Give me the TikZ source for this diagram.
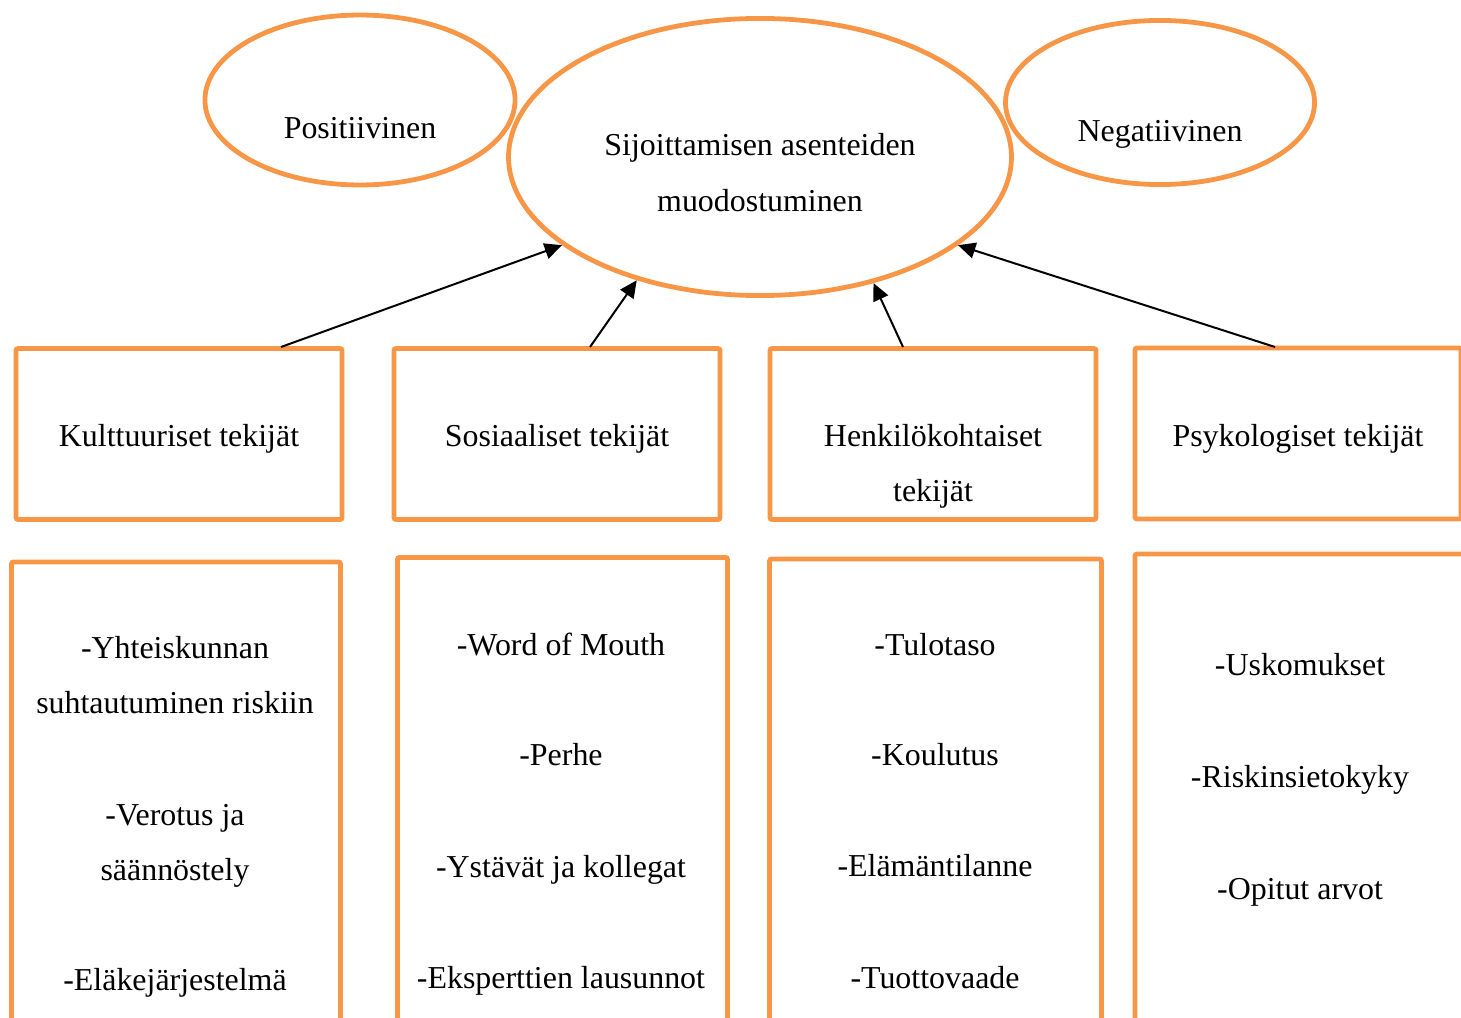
\documentclass[tikz,border=0pt]{standalone}
\usepackage{fontspec}
\setmainfont{Liberation Serif}
\usetikzlibrary{shapes.geometric,arrows.meta}
\definecolor{accentorange}{RGB}{247,150,70}
\tikzset{
  oval/.style={draw=accentorange,line width=1.8pt,ellipse,inner sep=0pt},
  factorbox/.style={draw=accentorange,line width=1.8pt,rounded corners=0.8pt,inner sep=0pt},
  itemtext/.style={font=\fontsize{12}{14}\selectfont,inner sep=0pt,anchor=base},
  influence/.style={-{Triangle[length=6.5pt,width=6pt]},line width=0.75pt}
}
\begin{document}
\begin{tikzpicture}[x=0.376pt,y=-0.376pt]
  \useasboundingbox (0,0) rectangle (1461,1017);
  \clip (0,0) rectangle (1461,1017);

  % Attitude ellipses.
  \node[oval,minimum width=116.6pt,minimum height=63.9pt] (pos) at (360,100) {};
  \node[oval,minimum width=189.1pt,minimum height=104.2pt] (attitude) at (760,157) {};
  \node[oval,minimum width=116.2pt,minimum height=61.7pt] (neg) at (1160,102.5) {};
  \node[itemtext] (posname) at (360,138) {Positiivinen};
  \node[itemtext] (negname) at (1160,141) {Negatiivinen};
  \node[itemtext] (attname1) at (760,155) {Sijoittamisen asenteiden};
  \node[itemtext] (attname2) at (760,211) {muodostuminen};

  % Factor headings.
  \node[factorbox,minimum width=122.6pt,minimum height=64.3pt] (kult) at (179,434) {};
  \node[factorbox,minimum width=122.6pt,minimum height=64.3pt] (sos) at (557,434) {};
  \node[factorbox,minimum width=122.6pt,minimum height=64.3pt] (henk) at (933,434) {};
  \node[factorbox,minimum width=122.6pt,minimum height=64.3pt] (psyk) at (1298,433.5) {};
  \node[itemtext] (kultname) at (179,446) {Kulttuuriset tekijät};
  \node[itemtext] (sosname) at (557,446) {Sosiaaliset tekijät};
  \node[itemtext] (henkname1) at (933,446) {Henkilökohtaiset};
  \node[itemtext] (henkname2) at (933,501) {tekijät};
  \node[itemtext] (psykname) at (1298,446) {Psykologiset tekijät};

  % Arrows from the factors to the attitude.
  \coordinate (kulttop) at (281,347);
  \coordinate (sostop) at (590,347);
  \coordinate (henktop) at (903,347);
  \coordinate (psyktop) at (1275,347);
  \draw[influence] (kulttop) -- (attitude.204);
  \draw[influence] (sostop) -- (attitude.225.2);
  \draw[influence] (henktop) -- (attitude.312.4);
  \draw[influence] (psyktop) -- (attitude.336.5);

  % Item lists.
  \node[factorbox,anchor=north,minimum width=123.7pt,minimum height=182pt] (kultlist) at (176,559.5) {};
  \node[factorbox,anchor=north,minimum width=124.1pt,minimum height=182pt] (soslist) at (562.5,555) {};
  \node[factorbox,anchor=north,minimum width=124.8pt,minimum height=182pt] (henklist) at (935.5,556.5) {};
  \node[factorbox,anchor=north,minimum width=124.1pt,minimum height=182pt] (psyklist) at (1300,551.5) {};
  \foreach \txt/\yy [count=\i] in {-Yhteiskunnan/658,suhtautuminen riskiin/713,
      -Verotus ja/825,säännöstely/880,-Eläkejärjestelmä/990}
    \node[itemtext] (kultitem\i) at (175,\yy) {\txt};
  \foreach \txt/\yy [count=\i] in {-Word of Mouth/655,-Perhe/765,
      -Ystävät ja kollegat/877,-Eksperttien lausunnot/988}
    \node[itemtext] (sositem\i) at (561,\yy) {\txt};
  \foreach \txt/\yy [count=\i] in {-Tulotaso/655,-Koulutus/765,
      -Elämäntilanne/876,-Tuottovaade/988}
    \node[itemtext] (henkitem\i) at (935,\yy) {\txt};
  \foreach \txt/\yy [count=\i] in {-Uskomukset/675,-Riskinsietokyky/787,-Opitut arvot/899}
    \node[itemtext] (psykitem\i) at (1300,\yy) {\txt};
\end{tikzpicture}
\end{document}
